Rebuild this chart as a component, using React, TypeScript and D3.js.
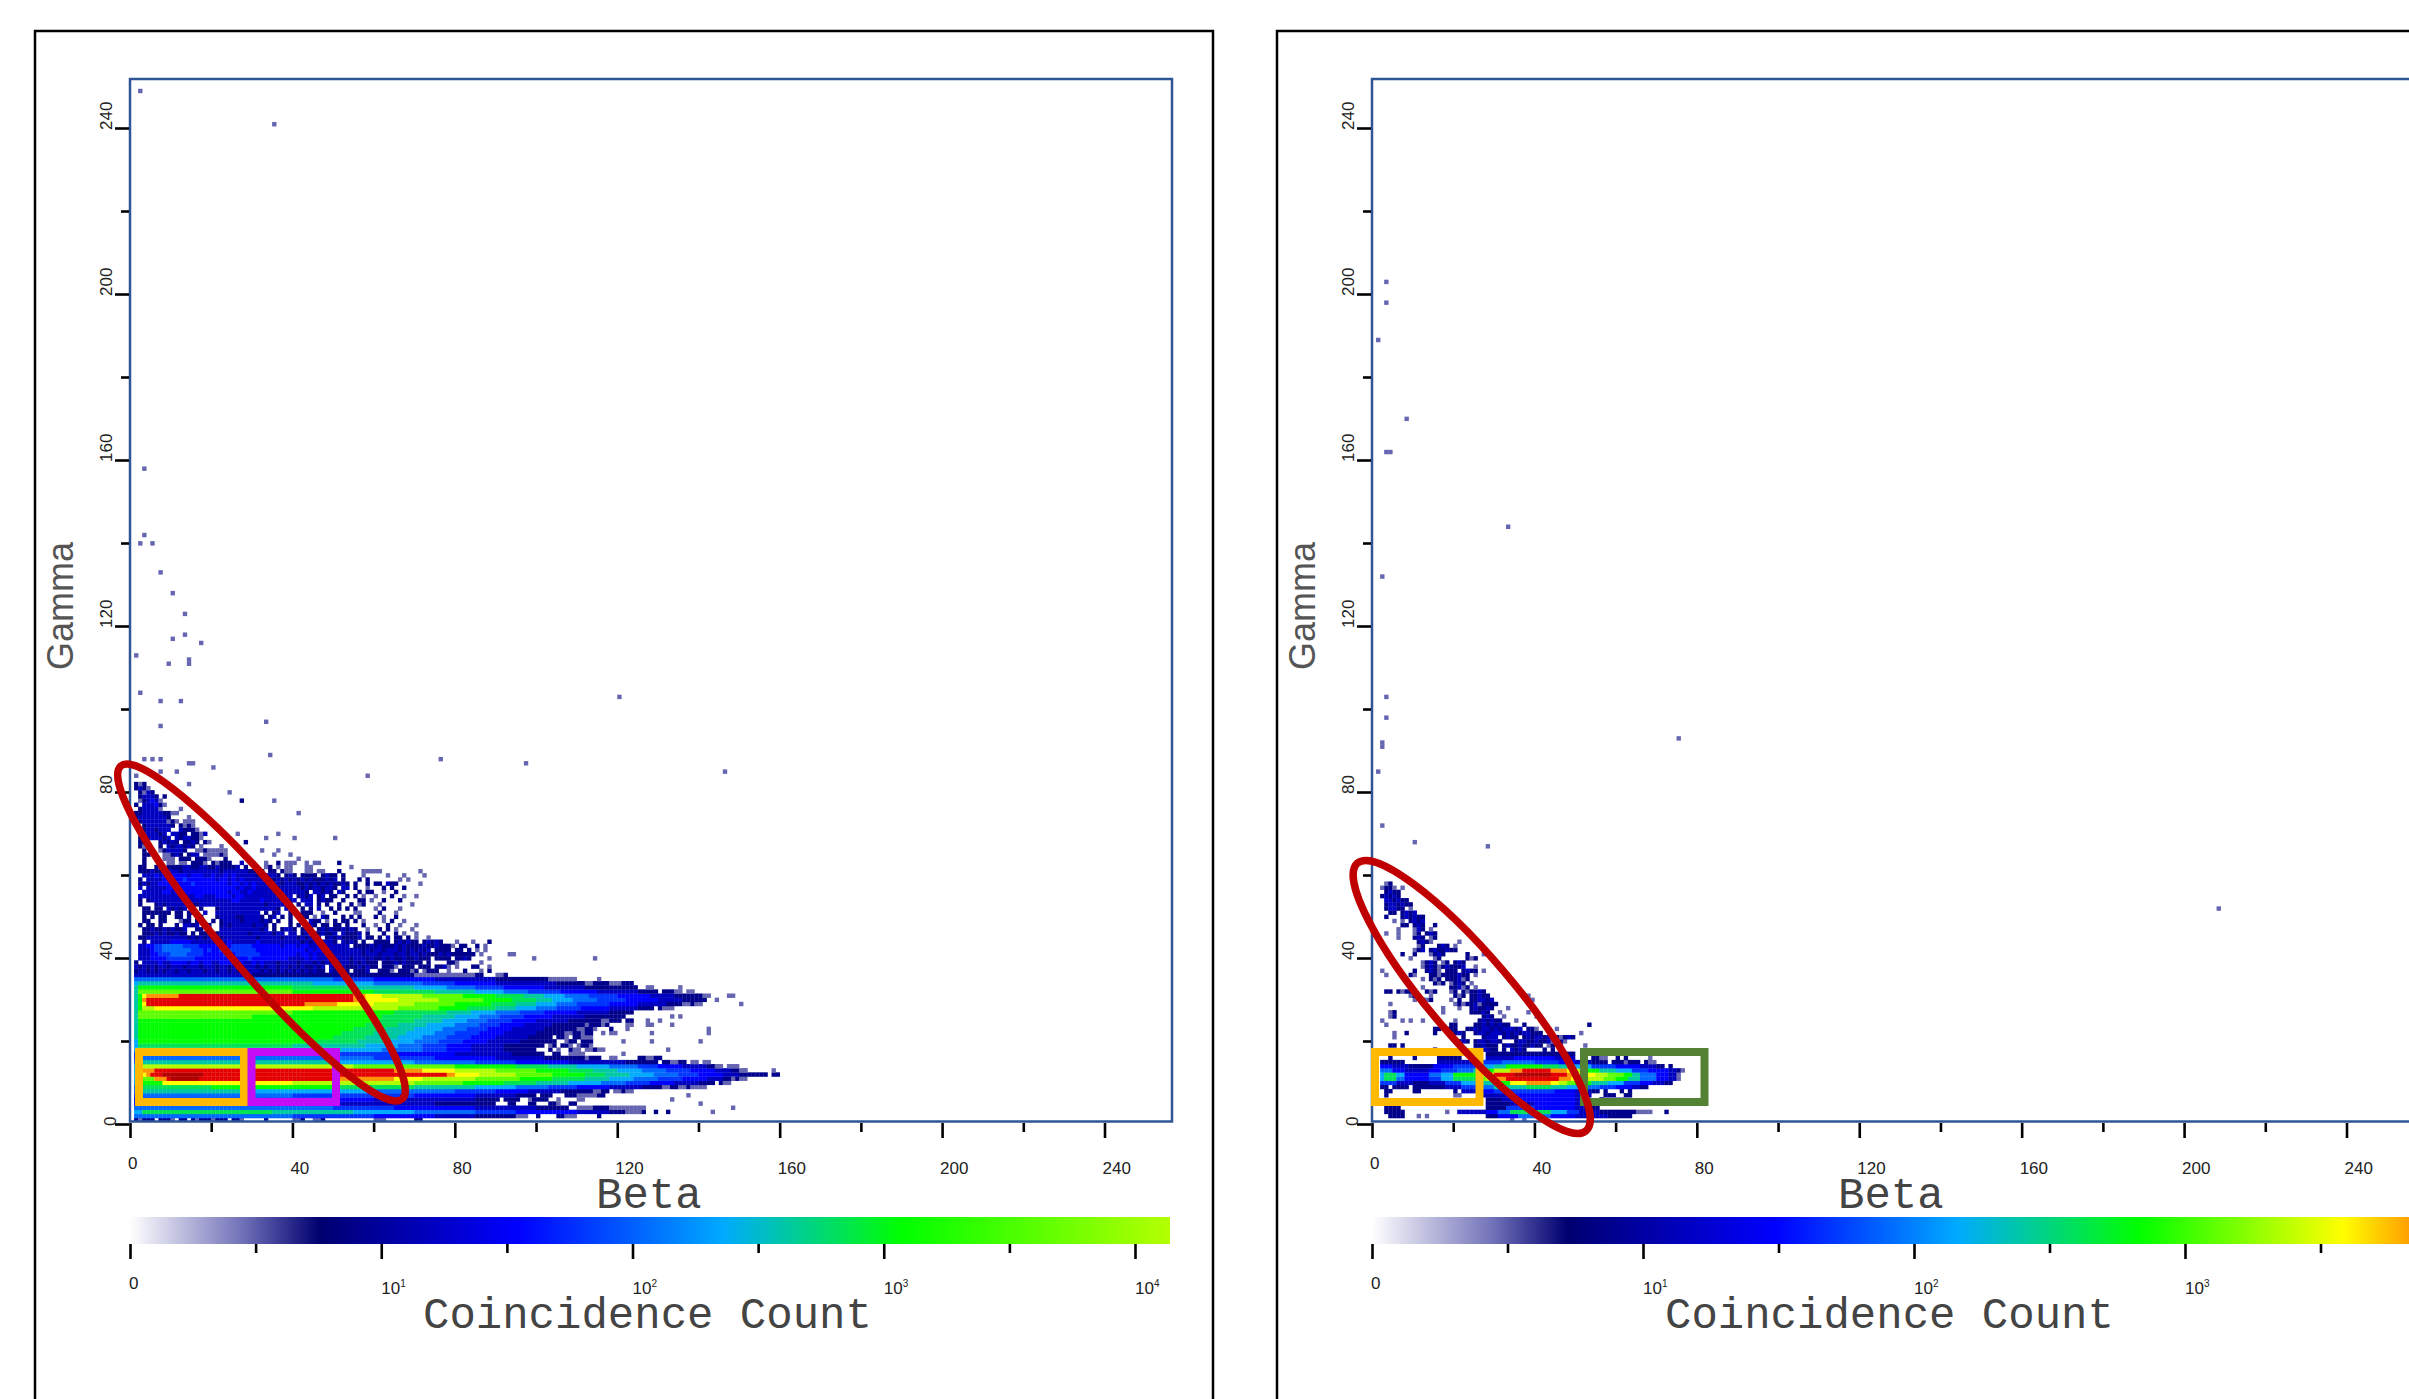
import { useEffect, useRef } from "react";
import * as d3 from "d3";

const W = 2409;
const H = 1399;

const betaMajor = [0, 40, 80, 120, 160, 200, 240];
const betaMinor = [20, 60, 100, 140, 180, 220];
const gammaMajor = [0, 40, 80, 120, 160, 200, 240];
const gammaMinor = [20, 60, 100, 140, 180, 220];

// coincidence count that each letter in the rows below stands for
const levelKeys = "123456789abcdefg";
const levelCounts = [3, 6, 13, 31, 50, 80, 145, 250, 400, 680, 1260, 2240, 3800, 7000, 12600, 25000];

const colorDecades = [0, 0.45, 0.72, 1.49, 2.16, 2.83, 3.58, 3.85, 4.1, 4.4];
const colorValues = ["#ffffff", "#7070b8", "#000080", "#0000ff", "#00aaff", "#00ff00", "#ffff00", "#ff9000", "#e40000", "#b00000"];

const leftBarDecades = [0, 0.45, 0.755, 1.54, 2.36, 3.07, 4.14];
const leftBarColors = ["#ffffff", "#7070b8", "#000070", "#0000ff", "#00aaff", "#00ff00", "#b4ff00"];
const rightBarDecades = [0, 0.45, 0.72, 1.49, 2.16, 2.83, 3.58, 3.85];
const rightBarColors = ["#ffffff", "#7070b8", "#000070", "#0000ff", "#00aaff", "#00ff00", "#ffff00", "#ff9800"];

// gamma 0 up to 35, each row is level:endColumn runs along beta
const leftBandRows = [
  ".:1 2:2 1:3 2:6 .:7 2:10 1:11 .:12 2:14 .:15 2:16 1:17 2:20 1:21 2:24 .:25 2:27 1:28 .:33 2:34 .:40 1:42 2:43 .:45 1:47 2:48 .:60 1:63 .:70 2:72",
  ".:1 6:40 5:60 4:75 3:85 2:95 1:98 .:100 2:101 .:105 2:107 1:110 .:115 2:116",
  ".:1 7:3 9:35 8:55 7:70 6:85 5:95 4:110 3:118 2:122 1:126 2:127 .:129 2:130 .:132 2:133",
  ".:1 6:50 5:65 4:85 3:100 2:108 .:110 1:114 2:118 1:127",
  ".:1 4:50 3:75 2:90 .:93 2:95 .:98 2:100 .:103 2:105 1:106 .:108 2:110",
  ".:1 4:60 3:85 2:91 .:92 2:96 .:98 1:99 2:103 .:105 1:106 .:110 1:112",
  ".:1 5:2 6:40 5:70 4:85 3:95 2:100 .:101 2:104 .:107 2:110 1:115 2:117",
  ".:1 6:2 8:30 7:60 6:80 5:90 4:98 3:106 2:114 1:116 2:118 .:119 1:121 2:122 1:124",
  ".:1 6:2 9:20 a:50 9:70 8:85 7:95 6:103 5:110 4:118 3:126 2:131 1:133 2:135 1:137 2:138 1:142",
  ".:1 7:2 a:8 d:40 c:70 b:82 a:92 9:100 8:108 7:116 6:122 5:128 4:134 3:140 2:144 .:145 2:146 1:148",
  ".:1 7:2 b:6 e:9 f:10 g:17 f:50 e:65 d:72 c:85 b:96 a:104 9:112 8:118 7:124 6:130 5:136 4:142 3:146 2:150 1:152",
  ".:1 7:2 d:4 e:5 f:8 g:18 f:78 e:80 d:86 c:95 b:104 a:112 9:117 8:123 7:129 6:135 5:140 4:146 3:150 2:157 .:158 2:160",
  ".:1 7:2 c:3 e:6 f:65 e:72 d:80 c:90 b:100 a:108 9:114 8:120 7:126 6:132 5:138 4:144 3:148 2:150 1:152 .:158 1:159",
  ".:1 7:2 a:3 c:55 b:80 a:95 9:103 8:110 7:118 6:125 5:130 4:136 3:142 2:144 1:146 .:147 1:150",
  ".:1 6:2 8:30 8:50 7:70 6:85 5:95 4:108 3:122 2:130 .:131 2:133 1:135 2:137 .:138 1:140 .:141 1:143",
  ".:1 5:2 6:60 5:75 4:90 3:102 2:112 1:113 2:116 .:118 1:120 .:125 2:127 1:129 2:131",
  ".:1 5:30 6:50 5:65 4:80 3:94 2:102 .:104 2:106 .:108 1:112",
  ".:1 7:2 8:52 7:62 6:72 5:78 4:84 3:92 2:100 .:103 2:104 .:105 1:106 .:108 2:109 1:111 .:112 1:114 2:115 1:117",
  ".:1 7:2 9:40 8:58 7:66 6:72 5:78 4:84 3:92 2:102 .:103 1:104 2:105 .:106 2:108 1:109 .:110 1:111 2:113 1:114",
  ".:1 7:2 a:46 9:56 8:64 7:70 6:76 5:82 4:88 3:96 2:105 .:107 1:108 2:110 .:111 2:114",
  ".:1 8:2 a:50 9:58 8:66 7:72 6:78 5:84 4:90 3:98 2:104 .:105 2:107 1:108 .:109 2:111 1:114",
  ".:1 8:2 a:52 9:60 8:68 7:75 6:80 5:86 4:92 3:100 2:107 1:109 2:111 1:112 2:114 .:116 1:117 .:118 1:120",
  ".:1 8:2 a:55 9:63 8:70 7:77 6:83 5:88 4:94 3:102 2:110 1:112 2:114 1:115 .:118 2:119 .:122 1:123",
  ".:1 8:2 a:58 9:66 8:73 7:80 6:86 5:91 4:97 3:104 2:112 1:113 2:116 1:117 2:118 .:122 1:124",
  ".:1 8:2 a:60 9:70 8:77 7:83 6:88 5:94 4:100 3:108 2:116 1:118 2:121 .:122 2:124 .:127 1:128",
  ".:1 8:2 b:30 a:62 9:72 8:80 7:86 6:91 5:97 4:104 3:112 2:122",
  ".:1 8:2 b:40 a:65 9:78 8:84 7:90 6:96 5:102 4:110 3:118 2:124",
  ".:1 8:2 a:3 c:6 d:45 c:66 b:76 a:83 9:90 8:95 7:100 6:105 5:111 4:118 3:125 2:129 .:130 2:131 1:134",
  ".:1 8:2 a:3 d:4 f:43 e:51 d:60 c:70 b:80 a:89 9:95 8:100 7:105 6:110 5:118 4:125 3:132 2:136 1:138 2:139 1:141",
  ".:1 8:2 a:3 e:4 f:55 e:58 d:66 c:76 b:87 a:94 9:100 8:104 7:109 6:115 5:122 4:130 3:136 2:142 .:144 1:145",
  ".:1 8:2 a:3 d:4 e:12 f:55 e:58 d:62 c:72 b:82 a:90 9:97 8:102 7:107 6:113 5:120 4:128 3:134 2:141 1:143 .:147 1:149",
  ".:1 8:2 b:40 a:60 9:75 8:85 7:92 6:98 5:106 4:115 3:125 2:130 .:131 2:134 1:136 .:137 1:139",
  ".:1 8:2 a:40 9:55 8:70 7:78 6:85 5:92 4:102 3:112 2:125 .:127 1:129 .:135 1:136",
  ".:1 7:2 8:45 7:60 6:72 5:80 4:90 3:105 2:112 1:114 2:118 1:121 2:124",
  ".:1 6:50 5:60 4:75 3:90 2:103 1:110",
  ".:1 3:30 2:70 1:85 2:87 .:90 1:92 2:93",
];

// gamma 36 upward, one character per beta column, spaced every ten columns
const leftScatterRows = [
  ".233232323 3233233323 3233232323 3323232323 23232322.3 2322.2223. .2221.2221 2.1222..1. ..2...1.2.",
  ".323232332 3332333233 3233233233 3232332332 32322323.3 2232223232 2.2221.222 .222.2231. 1...22..1",
  ".2.3333433 4444344344 3344434433 4343332333 3233323232 3233232322 2.22232322 22.2....22 1.....1",
  "..33344445 5555554444 4444444445 4444444443 3334343333 3333233323 2232322322 3222.2222. 2232....1",
  "..33344555 6666555544 4445445555 5544444444 4344343343 3333333233 3233323323 3232223232 22222.1",
  "..33345566 6666655545 4454555555 5444444444 4443434333 3333333232 3323332323 2323.2222. 22.2.1.1",
  "..33445566 6665555444 4444455555 4444444344 4344333333 3333.22223 2322232322 2232232221 .22..2.1",
  "...2.33333 4444433333 3333433333 3433333333 3323233333 2.3232.2.. 2222.23232 2.23232... 1...1...2",
  "..22333333 3333232323 3323333333 3233333233 3232333.23 2322223.22 .2.3.22.2. 1..1",
  "...2223232 2322.2.222 .233333332 33333233.3 3.23.32322 3.32223.2. ..2..2.1..1",
  "...2232232 3223..22.2 ..33333333 3323.2.233 2.232.2323 223232..1. .2.2.1...1",
  "..2.22.2.. .2.3323.22 ..23233333 2332.2...2 .2.232.22. 22.2...2.. 1..2..1...1",
  "...22..22. ..122.22.. 2.23333233 33232.2..2 ..2.322.1. 2.22.2.1.. ..1.2..1",
  "...2.2.22. .22.2..2.. .233332233 332.23.2.2 ..22.1.32. ..2.2.2... 2.1..2",
  "...2222222 .22.22..3. .333333333 33.2.23..2 ..222..1.. 2....11... .2...1",
  "...22.22.3 2323.1.2.. .233333333 3333332.3. ..2.2.3..2 .2.2.2.... 1.2...1",
  "..2...2323 3333322333 3333333333 3332333333 .2.33.2.2. .2..2.12.. .1.......1",
  "..2.233333 3333333333 3333344333 3343333323 3.333.2322 ..2...22.1 ..2...2",
  "..33333333 3333334433 3444434433 3333333333 .2323.23.2 2..2.2.1.. 1...2..1..1",
  "...3333344 3444444444 4444344334 3333332333 3332.33232 .32...2.22 ..1..2",
  "..3.333334 4444444444 4444443433 4333332333 3323233233 2.33.2..1. ..2.2..2",
  "..23233444 4444454444 4444344343 4333333233 3223232323 2232.2..2. 22.322.... .1",
  "..2.333344 4445444444 4344343433 3333323232 3232322232 3.2...2.2. ......1.1",
  "...3334344 4444344433 4334343333 3233332.23 2.2222.232 2.2....1.. ...1...1.. ..1",
  "..22232233 3323333333 3323333332 2.2.22.211 ...11.11.. .2.....111 11........ .1",
  "..22..21.2 2223322332 2322223.2. ...12.1.11 ...11..... ....1",
  "...2.....1 1.11.2221. 21222..3.. ...1..2.11 1..1.11... .2",
  "...2....11 1.222.2221 ...2...... .......... .1",
  "...22...11 232.233.11 1121...... .....1...1",
  "...2...123 3332..1121 1111...... ..1...1",
  "..212..2.3 233232.1.. ..1",
  "..22...232 32.2232.21 ........2.",
  "..2.333323 .3233221.. .......... ...1...... 1......... 1",
  "...233323. 3322.2213. ......1... ......1",
  "...2332333 ..32221",
  "...2333333 2.2121",
  "..23333331 21.111",
  ".233333332 ....1",
  ".223333322 11........ .......... .......... .1",
  "..233331.. ..1",
  ".2.333421",
  "..123431.. .......... .......2.. .....1",
  "..23332.2",
  "..2132.... .......... ....1",
  ".2321",
  ".212...... ....1",
];

// lone bins as [beta, gamma]
const leftPointBeta = [2, 35, 3, 3, 2, 5, 7, 10, 13, 13, 10, 17, 1, 9, 14, 14, 2, 7, 12, 120, 33, 7, 34, 58, 76, 97, 146, 3, 5, 7, 14, 15, 20, 11, 7, 1, 93, 94, 99, 114, 115, 133, 137, 140, 143, 148, 132, 121, 140, 128, 121, 128, 142, 142, 133, 130, 133, 135, 127, 128, 150, 151, 148];
const leftPointGamma = [248, 240, 157, 141, 139, 139, 132, 127, 122, 117, 116, 115, 112, 110, 110, 111, 103, 101, 101, 102, 96, 95, 88, 83, 87, 86, 84, 87, 87, 87, 86, 86, 85, 84, 84, 83, 40, 40, 39, 39, 34, 5, 6, 4, 2, 3, 17, 16, 19, 19, 19, 21, 22, 21, 23, 24, 25, 25, 23, 23, 28, 12, 10];

const rightBandRows = [
  ".:34 1:35 .:37 1:38",
  ".:4 2:8 .:11 1:12 .:13 1:14 .:28 2:31 4:36 6:44 4:50 3:58 2:64",
  ".:3 2:8 .:18 1:19 .:21 3:28 4:31 6:34 9:44 7:48 5:51 3:56 2:65 1:69 .:72 2:73",
  ".:3 2:7 .:28 2:33 5:40 4:50 3:53 2:56",
  ".:28 2:34 3:40 4:50 3:54 .:57 2:60",
  ".:28 2:32 3:36 4:50 3:52 .:56 2:57 .:60 1:62",
  ".:3 2:4 .:20 1:22 .:27 3:33 4:50 3:54 .:57 2:60 .:62 2:64",
  ".:3 2:5 .:10 2:12 .:20 2:21 .:22 3:27 4:30 5:45 4:50 3:54 2:56 .:57 2:58 .:61 2:62 .:63 2:64",
  ".:2 2:4 .:5 2:9 .:10 2:18 3:22 5:27 6:30 8:38 9:44 8:48 7:52 6:56 5:60 4:64 3:66 2:68",
  ".:2 5:6 3:10 2:14 3:18 5:22 7:27 8:30 a:34 d:38 e:44 d:46 c:48 b:50 a:54 8:58 7:62 5:66 4:69 3:72 2:74",
  ".:2 7:3 9:6 6:8 4:14 5:17 7:20 9:26 b:28 c:30 e:33 f:46 e:49 d:53 c:57 b:60 a:63 8:66 6:70 4:73 3:75 1:76",
  ".:2 7:3 9:6 7:8 4:14 6:17 7:20 a:26 c:28 d:30 f:35 g:44 f:48 e:51 d:55 c:58 b:62 a:64 8:66 6:70 4:73 3:75 1:76",
  ".:2 6:5 4:8 3:14 4:17 5:21 6:25 8:28 a:30 c:34 e:37 f:44 e:48 d:50 c:52 a:56 8:60 7:64 5:68 4:73 3:75 2:76 1:77",
  ".:2 4:5 3:9 2:15 4:20 5:27 7:30 8:33 a:42 9:46 8:50 7:54 5:60 4:66 3:70 2:72 .:73 2:74",
  ".:2 2:8 .:16 3:25 .:27 5:32 6:40 5:46 4:50 3:54 2:58 .:59 2:62 1:63 2:66 .:67 2:68 1:70",
  ".:4 2:5 .:10 2:11 .:16 2:22 .:28 3:35 4:45 3:50 .:54 2:56 1:58 .:60 2:61 .:62 2:63 .:68 1:69",
  ".:28 2:50",
];

// gamma 17 upward
const rightScatterRows = [
  ".......... .....2.... .....33332 2.2.3232.. ..2.2",
  "....22.2.. .......... .....22322 2.23223223 22.12.1... ..1",
  ".......... .......... .232.23323 32...23322 32231221",
  ".....1.... .......... ..2....233 3.2322.232 3323221232",
  ".....1..2. .....2...2 232..23323 3323232332 22........ .1",
  ".......... .....22.22 2..2232332 3233323.22 1....1",
  "...1...... .........2 2....22323 2322...2.. .......... ...2",
  "..1....1.1 ..1....... 1.....2323 22...1",
  "....12.... .......... .......232 ..1....... 1",
  "....12.... .......1.. ....22232. .1......1.",
  ".......... .......1.. .1..232232 ...1",
  "....1..... .......... 1212231222 2",
  ".......... 1.212....1 .2..223323 .........1",
  ".........1 21..1..... 212.22322. ........1.",
  "...22.2122 ...212...1 2.212232",
  ".......... ..1......2 2312.1",
  ".......... .....212.1 232.1",
  ".......... ..1.212.22 2312",
  "...1.....2 1...221222 2322.1",
  "..1....... 2..2321.22 2.2322.1",
  ".......... ..12321232 223..1",
  ".......... ..1232.12. 232",
  ".........1 .....12... ...212",
  ".......2.. 2...1232.. ...2...1",
  ".......... 123.232232 2",
  ".......... .12...232. 1",
  ".......... .2321..... .1",
  "......1... 232.12",
  "...1..1... 12.232",
  "......1... 132.1",
  ".......22. 232..2",
  ".....1.1.2 323",
  "...2...232 322",
  "....22.232 3",
  "...23322.1",
  "...2332322",
  "...332322",
  "..23232",
  "...2322",
  "..1221.1",
  "...12",
];

const rightPointBeta = [3, 3, 1, 8, 3, 4, 33, 2, 3, 3, 2, 2, 1, 2, 10, 28, 75, 208];
const rightPointGamma = [202, 197, 188, 169, 161, 161, 143, 131, 102, 97, 91, 90, 84, 71, 67, 66, 92, 51];

type Cell = { beta: number; gamma: number; count: number };

const countOf = (key: string) => levelCounts[levelKeys.indexOf(key)];

function readBands(rows: string[], firstGamma: number): Cell[] {
  const cells: Cell[] = [];
  rows.forEach((row, r) => {
    let col = 0;
    row.split(" ").forEach((tok) => {
      const [key, end] = tok.split(":");
      for (; col < +end; col++) {
        if (key !== ".") cells.push({ beta: col, gamma: firstGamma + r, count: countOf(key) });
      }
    });
  });
  return cells;
}

function readScatter(rows: string[], firstGamma: number): Cell[] {
  const cells: Cell[] = [];
  rows.forEach((row, r) => {
    row.replace(/ /g, "").split("").forEach((key, col) => {
      if (key !== ".") cells.push({ beta: col, gamma: firstGamma + r, count: countOf(key) });
    });
  });
  return cells;
}

const readPoints = (betas: number[], gammas: number[]): Cell[] =>
  betas.map((b, i) => ({ beta: b, gamma: gammas[i], count: levelCounts[0] }));

const heatColor = d3.scaleLinear<string>().domain(colorDecades).range(colorValues).interpolate(d3.interpolateRgb).clamp(true);

type PanelCfg = {
  id: string;
  left: number;
  cells: Cell[];
  barDomain: number[];
  barRange: number[];
  barEnd: number;
  barDecades: number[];
  barColors: string[];
  barMajor: number[];
  barMinor: number[];
  frameRight: number;
  ellipse: { cx: number; cy: number; rx: number; ry: number; angle: number };
  boxes: { x0: number; x1: number; color: string }[];
};

const panels: PanelCfg[] = [
  {
    id: "a",
    left: 130,
    cells: [...readBands(leftBandRows, 0), ...readScatter(leftScatterRows, 36), ...readPoints(leftPointBeta, leftPointGamma)],
    barDomain: [0, 4],
    barRange: [130, 1135],
    barEnd: 1170,
    barDecades: leftBarDecades,
    barColors: leftBarColors,
    barMajor: [0, 1, 2, 3, 4],
    barMinor: [0.5, 1.5, 2.5, 3.5],
    frameRight: 1213,
    ellipse: { cx: 261.5, cy: 932.5, rx: 218, ry: 39, angle: 49.8 },
    boxes: [
      { x0: 139, x1: 244, color: "#ffb900" },
      { x0: 251.5, x1: 336, color: "#c40cf5" },
    ],
  },
  {
    id: "b",
    left: 1372,
    cells: [...readBands(rightBandRows, 0), ...readScatter(rightScatterRows, 17), ...readPoints(rightPointBeta, rightPointGamma)],
    barDomain: [0, 3],
    barRange: [1372, 2185],
    barEnd: 2420,
    barDecades: rightBarDecades,
    barColors: rightBarColors,
    barMajor: [0, 1, 2, 3],
    barMinor: [0.5, 1.5, 2.5, 3.5],
    frameRight: 2430,
    ellipse: { cx: 1471.7, cy: 997, rx: 176, ry: 41, angle: 49.5 },
    boxes: [
      { x0: 1375, x1: 1479.5, color: "#ffb900" },
      { x0: 1584, x1: 1704.5, color: "#548235" },
    ],
  },
];

const tickFont = "'Liberation Sans', Arial, sans-serif";
const monoFont = "'Liberation Mono', 'Courier New', monospace";

function drawPanel(svg: any, p: PanelCfg) {
  const x = d3.scaleLinear().domain([0, 240]).range([p.left, p.left + 974.5]);
  const y = d3.scaleLinear().domain([0, 240]).range([1124, 128]);
  const plotRight = p.left + 1042;
  const g = svg.append("g");

  g.append("rect")
    .attr("x", p.left - 95).attr("y", 31)
    .attr("width", p.frameRight - p.left + 95).attr("height", 1420)
    .attr("fill", "#fff").attr("stroke", "#000").attr("stroke-width", 2.5);

  const clipId = "plot-" + p.id;
  g.append("clipPath").attr("id", clipId).append("rect")
    .attr("x", p.left).attr("y", 79).attr("width", plotRight - p.left).attr("height", 1043);

  const cellW = x(1) - x(0);
  const cellH = y(0) - y(1);
  g.append("g")
    .attr("clip-path", `url(#${clipId})`)
    .append("g")
    .attr("filter", "url(#soft)")
    .selectAll("rect")
    .data(p.cells)
    .join("rect")
    .attr("x", (d: Cell) => x(d.beta))
    .attr("y", (d: Cell) => y(d.gamma + 1.45))
    .attr("width", cellW + 0.3)
    .attr("height", cellH + 0.3)
    .attr("fill", (d: Cell) => heatColor(Math.log10(d.count)));

  g.append("rect")
    .attr("x", p.left).attr("y", 79)
    .attr("width", plotRight - p.left).attr("height", 1042.5)
    .attr("fill", "none").attr("stroke", "#2f5597").attr("stroke-width", 2.5);

  // axes
  const styleAxis = (sel: any) => {
    sel.select(".domain").remove();
    sel.selectAll("text").remove();
    sel.selectAll("line").attr("stroke", "#000").attr("stroke-width", 2.6);
  };
  g.append("g").attr("transform", "translate(0,1123)")
    .call(d3.axisBottom(x).tickValues(betaMajor).tickSize(15)).call(styleAxis);
  g.append("g").attr("transform", "translate(0,1123)")
    .call(d3.axisBottom(x).tickValues(betaMinor).tickSize(9)).call(styleAxis);
  g.append("g").attr("transform", `translate(${p.left - 1},0)`)
    .call(d3.axisLeft(y).tickValues(gammaMajor).tickSize(14)).call(styleAxis);
  g.append("g").attr("transform", `translate(${p.left - 1},0)`)
    .call(d3.axisLeft(y).tickValues(gammaMinor).tickSize(8)).call(styleAxis);

  g.selectAll(".beta-label")
    .data(betaMajor)
    .join("text")
    .attr("x", (d: number) => x(d) - 2)
    .attr("y", (d: number) => (d === 0 ? 1169 : 1174))
    .attr("font-family", tickFont).attr("font-size", 17).attr("fill", "#222")
    .text((d: number) => d);

  g.selectAll(".gamma-label")
    .data(gammaMajor)
    .join("text")
    .attr("transform", (d: number) => `translate(${p.left - (d === 0 ? 14 : 18)},${y(d) + 2}) rotate(-90)`)
    .attr("font-family", tickFont).attr("font-size", 17).attr("fill", "#222")
    .text((d: number) => d);

  g.append("text")
    .attr("x", p.left + 466).attr("y", 1208)
    .attr("font-family", monoFont).attr("font-size", 44).attr("fill", "#444")
    .text("Beta");
  g.append("text")
    .attr("x", p.left + 293).attr("y", 1328)
    .attr("font-family", monoFont).attr("font-size", 44).attr("fill", "#444")
    .text("Coincidence Count");
  g.append("text")
    .attr("transform", `translate(${p.left - 57},670) rotate(-90)`)
    .attr("font-family", tickFont).attr("font-size", 36).attr("fill", "#555")
    .text("Gamma");

  // colour bar
  const bar = d3.scaleLinear().domain(p.barDomain).range(p.barRange);
  const gradId = "bar-" + p.id;
  const top = p.barDecades[p.barDecades.length - 1];
  const grad = g.append("linearGradient").attr("id", gradId)
    .attr("gradientUnits", "userSpaceOnUse")
    .attr("x1", bar(0)).attr("x2", bar(top))
    .attr("y1", 0).attr("y2", 0);
  p.barDecades.forEach((d, i) => {
    grad.append("stop").attr("offset", d / top).attr("stop-color", p.barColors[i]);
  });
  g.append("rect")
    .attr("x", p.left).attr("y", 1217)
    .attr("width", p.barEnd - p.left).attr("height", 27)
    .attr("fill", `url(#${gradId})`);

  g.append("g").attr("transform", "translate(0,1244)")
    .call(d3.axisBottom(bar).tickValues(p.barMajor).tickSize(15)).call(styleAxis);
  g.append("g").attr("transform", "translate(0,1244)")
    .call(d3.axisBottom(bar).tickValues(p.barMinor).tickSize(9)).call(styleAxis);

  const barLabels = g.selectAll(".bar-label")
    .data(p.barMajor)
    .join("text")
    .attr("x", (d: number) => bar(d) - (d === 0 ? 1 : 0))
    .attr("y", (d: number) => (d === 0 ? 1289 : 1294))
    .attr("font-family", tickFont).attr("font-size", 17).attr("fill", "#222");
  barLabels.each(function (this: any, d: number) {
    const t = d3.select(this);
    if (d === 0) {
      t.text("0");
    } else {
      t.append("tspan").text("10");
      t.append("tspan").attr("dy", -7).attr("font-size", 10).text(d);
    }
  });

  // hand-drawn marks over the plot
  p.boxes.forEach((b) => {
    g.append("rect")
      .attr("x", b.x0).attr("y", 1052)
      .attr("width", b.x1 - b.x0).attr("height", 50)
      .attr("fill", "none").attr("stroke", b.color).attr("stroke-width", 8);
  });
  const e = p.ellipse;
  g.append("ellipse")
    .attr("transform", `translate(${e.cx},${e.cy}) rotate(${e.angle})`)
    .attr("rx", e.rx).attr("ry", e.ry)
    .attr("fill", "none").attr("stroke", "#c00000").attr("stroke-width", 7.5);
}

export default function App() {
  const svgRef = useRef<SVGSVGElement | null>(null);

  useEffect(() => {
    const svg = d3.select(svgRef.current);
    svg.selectAll("*").remove();
    svg.append("filter").attr("id", "soft")
      .attr("x", "-2%").attr("y", "-2%").attr("width", "104%").attr("height", "104%")
      .append("feGaussianBlur").attr("stdDeviation", 0.6);
    panels.forEach((p) => drawPanel(svg, p));
  }, []);

  return (
    <svg
      ref={svgRef}
      width={W}
      height={H}
      style={{ position: "absolute", left: 0, top: 0, background: "#fff" }}
    />
  );
}
